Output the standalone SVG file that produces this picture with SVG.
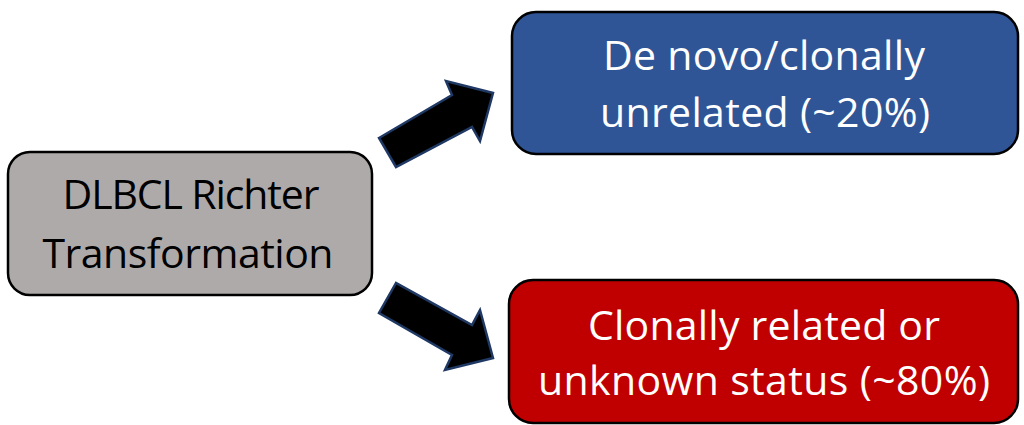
<svg xmlns="http://www.w3.org/2000/svg" width="1024" height="425" viewBox="0 0 1024 425">
  <style>
    .box { stroke: #000; stroke-width: 2.5; }
    .lbl { font-family: "Open Sans", "Noto Sans", sans-serif; font-size: 41px; text-anchor: middle; }
    .arrow { fill: #000; stroke: #1f3864; stroke-width: 2.5; stroke-linejoin: miter; }
  </style>
  <rect width="1024" height="425" fill="#fff"/>

  <!-- source node -->
  <g id="node-richter">
    <rect class="box" x="8" y="152" width="364" height="143" rx="22" fill="#aeaaaa"/>
    <text class="lbl" fill="#000" x="191" y="209" textLength="257">DLBCL Richter</text>
    <text class="lbl" fill="#000" x="188" y="268" textLength="291">Transformation</text>
  </g>

  <!-- outcome: de novo -->
  <g id="node-denovo">
    <rect class="box" x="512" y="12" width="506" height="142" rx="24" fill="#2f5597"/>
    <text class="lbl" fill="#fff" x="764" y="70" textLength="322">De novo/clonally</text>
    <text class="lbl" fill="#fff" x="765" y="127" textLength="330">unrelated (~20%)</text>
  </g>

  <!-- outcome: clonally related -->
  <g id="node-related">
    <rect class="box" x="509" y="280" width="509" height="143" rx="24" fill="#c00000"/>
    <text class="lbl" fill="#fff" x="764" y="340" textLength="352">Clonally related or</text>
    <text class="lbl" fill="#fff" x="764" y="395" textLength="452">unknown status (~80%)</text>
  </g>

  <!-- block arrows -->
  <g id="connectors">
    <polygon class="arrow" points="379,138 452,95 446,81 493,93 480,141 472,127 396,167"/>
    <polygon class="arrow" points="396,283 379,313 452,355 445,370 493,358 480,310 472,325"/>
  </g>
</svg>
